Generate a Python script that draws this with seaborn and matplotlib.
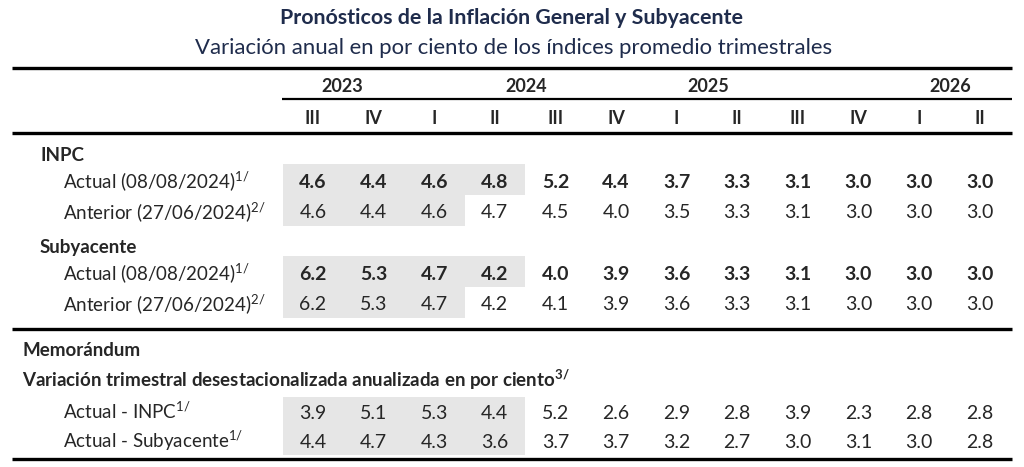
import numpy as np
import pandas as pd
import seaborn as sns
import matplotlib
matplotlib.use("Agg")
import matplotlib.pyplot as plt

# ---------------- data ----------------
title = "Pronósticos de la Inflación General y Subyacente"
subtitle = "Variación anual en por ciento de los índices promedio trimestrales"
years = ["2023", "2024", "2025", "2026"]
quarters = ["III", "IV", "I", "II", "III", "IV", "I", "II", "III", "IV", "I", "II"]
inpc_actual = [4.6, 4.4, 4.6, 4.8, 5.2, 4.4, 3.7, 3.3, 3.1, 3.0, 3.0, 3.0]
inpc_anterior = [4.6, 4.4, 4.6, 4.7, 4.5, 4.0, 3.5, 3.3, 3.1, 3.0, 3.0, 3.0]
sub_actual = [6.2, 5.3, 4.7, 4.2, 4.0, 3.9, 3.6, 3.3, 3.1, 3.0, 3.0, 3.0]
sub_anterior = [6.2, 5.3, 4.7, 4.2, 4.1, 3.9, 3.6, 3.3, 3.1, 3.0, 3.0, 3.0]
memo_inpc = [3.9, 5.1, 5.3, 4.4, 5.2, 2.6, 2.9, 2.8, 3.9, 2.3, 2.8, 2.8]
memo_sub = [4.4, 4.7, 4.3, 3.6, 3.7, 3.7, 3.2, 2.7, 3.0, 3.1, 3.0, 2.8]
# number of observed (shaded) quarters per row
obs_actual = 4
obs_anterior = 3
obs_memo = 4

sections = [
    ("INPC", [("Actual (08/08/2024)$^{1/}$", inpc_actual, True, obs_actual),
              ("Anterior (27/06/2024)$^{2/}$", inpc_anterior, False, obs_anterior)]),
    ("Subyacente", [("Actual (08/08/2024)$^{1/}$", sub_actual, True, obs_actual),
                    ("Anterior (27/06/2024)$^{2/}$", sub_anterior, False, obs_anterior)]),
]
memo_title = "Memorándum"
memo_sub_title = r"Variación trimestral desestacionalizada anualizada en por ciento$^{\mathbf{3/}}$"
memo_rows = [("Actual - INPC$^{1/}$", memo_inpc, obs_memo),
             ("Actual - Subyacente$^{1/}$", memo_sub, obs_memo)]

# ---------------- style ----------------
sns.set_theme(style="white")
FONT = "Lato"
plt.rcParams["font.family"] = [FONT, "DejaVu Sans"]
plt.rcParams["mathtext.fontset"] = "custom"
plt.rcParams["mathtext.rm"] = FONT
plt.rcParams["mathtext.it"] = FONT + ":italic"
plt.rcParams["mathtext.bf"] = FONT + ":bold"

NAVY = "#1f2c4c"
GREY = "#e6e6e6"
NUM = 14
LAB = 13.5
HEAD = 13

fig = plt.figure(figsize=(10.24, 4.67), dpi=100)
ax = fig.add_axes([0, 0, 1, 1])
ax.set_xlim(0, 1024)
ax.set_ylim(467, 0)
ax.axis("off")

cw = 60.6
col_x = 313 + cw * np.arange(len(quarters))

# title
ax.text(512, 24, title, ha="center", va="baseline", fontsize=15.4, fontweight="bold", color=NAVY)
ax.text(514, 54, subtitle, ha="center", va="baseline", fontsize=15.9, color=NAVY)

# header rules
ax.hlines(67.5, 12, 1012, color="black", lw=2.4)
ax.hlines(99, 282, 1012, color="black", lw=1.6)
ax.hlines(132.5, 12, 1012, color="black", lw=2.4)

year_x = [342, 526, 708, 950]
for yx, yr in zip(year_x, years):
    ax.text(yx, 92, yr, ha="center", va="baseline", fontsize=HEAD, fontweight="bold")
for x, q in zip(col_x, quarters):
    ax.text(x, 124, q, ha="center", va="baseline", fontsize=HEAD, fontweight="bold")

# main sections
sec_y = [161, 253]
row_h = 31
for (name, rows), y0 in zip(sections, sec_y):
    ax.text(40, y0, name, ha="left", va="baseline", fontsize=LAB, fontweight="bold")
    top = y0 + 3
    for r, (lab, vals, bold, nobs) in enumerate(rows):
        ytop = top + r * row_h
        ax.bar(col_x[:nobs], row_h, bottom=ytop, width=cw, color=GREY, linewidth=0, zorder=0)
        yb = ytop + row_h / 2 + 8
        ax.text(63, yb, lab, ha="left", va="baseline", fontsize=LAB)
        for x, v in zip(col_x, vals):
            ax.text(x, yb, f"{v:.1f}", ha="center", va="baseline", fontsize=NUM,
                    fontweight="bold" if bold else "normal")

ax.hlines(328.5, 12, 1012, color="black", lw=2.4)
ax.text(22, 356, memo_title, ha="left", va="baseline", fontsize=LAB, fontweight="bold")
ax.text(22, 387, memo_sub_title, ha="left", va="baseline", fontsize=LAB, fontweight="bold")
mrow_h = 29
for r, (lab, vals, nobs) in enumerate(memo_rows):
    ytop = 397 + r * mrow_h
    ax.bar(col_x[:nobs], mrow_h, bottom=ytop, width=cw, color=GREY, linewidth=0, zorder=0)
    yb = ytop + mrow_h / 2 + 7.5
    ax.text(63, yb, lab, ha="left", va="baseline", fontsize=LAB)
    for x, v in zip(col_x, vals):
        ax.text(x, yb, f"{v:.1f}", ha="center", va="baseline", fontsize=NUM)
ax.hlines(459, 12, 1012, color="black", lw=2.4)

fig.savefig("out.png", dpi=100)
